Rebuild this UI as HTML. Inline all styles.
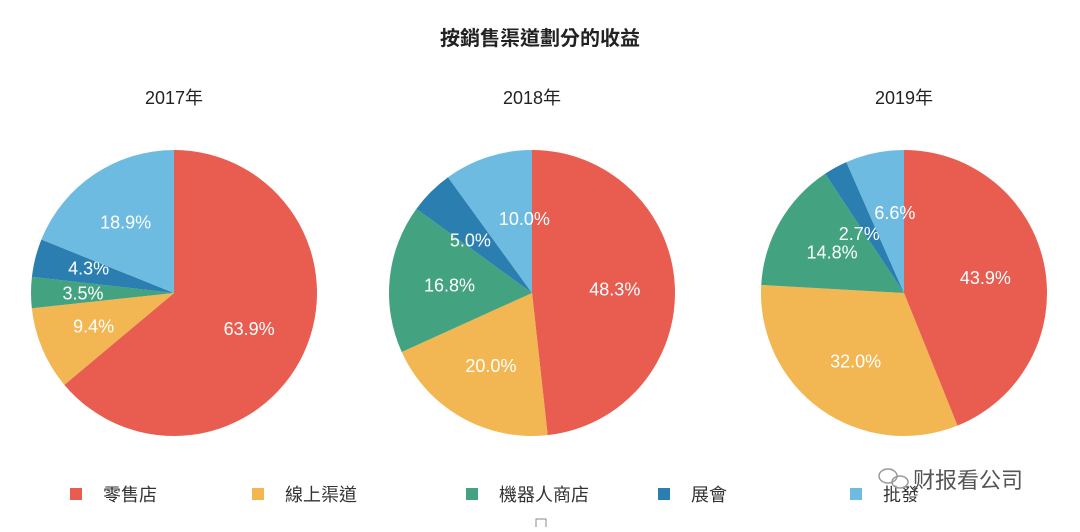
<!DOCTYPE html>
<html><head><meta charset="utf-8">
<style>
body{margin:0;background:#fff;width:1080px;height:527px;overflow:hidden;font-family:"Liberation Sans","Noto Sans CJK TC",sans-serif;}
</style></head>
<body>
<svg id="chart" width="1080" height="527" xmlns="http://www.w3.org/2000/svg">
<text x="540" y="45" text-anchor="middle" font-size="20" font-weight="bold" fill="#222" font-family="Liberation Sans, Noto Sans CJK TC, sans-serif">按銷售渠道劃分的收益</text>
<g id="pies"></g>
<g id="legend"></g>
<g>
<ellipse cx="888" cy="476" rx="9" ry="7" fill="none" stroke="#999" stroke-width="1.5"/>
<ellipse cx="900" cy="482" rx="8" ry="6" fill="none" stroke="#999" stroke-width="1.5"/>
<text x="913" y="488" font-size="22" fill="#555" font-family="Liberation Sans, Noto Sans CJK SC, sans-serif">财报看公司</text>
</g>
<rect x="536" y="519" width="10" height="10" fill="none" stroke="#888"/>
</svg>
<script>
const years = ["2017年","2018年","2019年"];
const categories = ["零售店","線上渠道","機器人商店","展會","批發"];
const values2017 = [63.9,9.4,3.5,4.3,18.9];
const values2018 = [48.3,20.0,16.8,5.0,10.0];
const values2019 = [43.9,32.0,14.8,2.7,6.6];
const series = [values2017,values2018,values2019];
const colors = ["#e85d50","#f2b752","#43a381","#2b7fb0","#6dbbe1"];
const centersX = [174,532,904];
// label nudges (styling, not data)
const nudge = [[[0,0],[-4,0],[-8,0],[-5,-5],[-2,-3]],[[0,0],[0,0],[0,0],[-3,5],[18,4]],[[0,0],[0,0],[0,0],[-5,13],[8,0]]];
const cy = 293, R = 143;
const NS = "http://www.w3.org/2000/svg";
const pies = document.getElementById('pies');
function pt(cx,a,r){return [cx+r*Math.sin(a), cy-r*Math.cos(a)];}
series.forEach((vals,pi)=>{
  const cx = centersX[pi];
  const g = document.createElementNS(NS,'g');
  
  
  pies.appendChild(g);
  const yt = document.createElementNS(NS,'text');
  
  
  yt.setAttribute('x',cx);yt.setAttribute('y',104);yt.setAttribute('text-anchor','middle');
  yt.setAttribute('font-size','18');yt.setAttribute('fill','#222');
  yt.textContent = years[pi]; g.appendChild(yt);
  const total = vals.reduce((a,b)=>a+b,0);
  let a0 = 0;
  vals.forEach((v,i)=>{
    const a1 = a0 + v/total*2*Math.PI;
    const p0 = pt(cx,a0,R), p1 = pt(cx,a1,R);
    const large = (a1-a0)>Math.PI?1:0;
    const path = document.createElementNS(NS,'path');
    
    
    path.setAttribute('d',`M${cx},${cy} L${p0[0]},${p0[1]} A${R},${R} 0 ${large} 1 ${p1[0]},${p1[1]} Z`);
    path.setAttribute('fill',colors[i]);
    g.appendChild(path);
    const m = (a0+a1)/2, lp = pt(cx,m,R*0.58);
    const nd = nudge[pi][i];
    const t = document.createElementNS(NS,'text');
    
    
    t.setAttribute('x',lp[0]+nd[0]);t.setAttribute('y',lp[1]+7+nd[1]);t.setAttribute('text-anchor','middle');
    t.setAttribute('font-size','18');t.setAttribute('fill','#fff');
    t.textContent = v.toFixed(1)+'%';
    g.appendChild(t);
    a0 = a1;
  });
});
const legend = document.getElementById('legend');
const legX = [70,252,466,658,850];
categories.forEach((c,i)=>{
  const g = document.createElementNS(NS,'g');
  
  
  const r = document.createElementNS(NS,'rect');
  r.setAttribute('x',legX[i]);r.setAttribute('y',488);r.setAttribute('width',12);r.setAttribute('height',12);r.setAttribute('fill',colors[i]);
  g.appendChild(r);
  const t = document.createElementNS(NS,'text');
  t.setAttribute('x',legX[i]+33);t.setAttribute('y',501);t.setAttribute('font-size','18');t.setAttribute('fill','#333');
  t.textContent = c; g.appendChild(t);
  legend.appendChild(g);
});
</script>
</body></html>
